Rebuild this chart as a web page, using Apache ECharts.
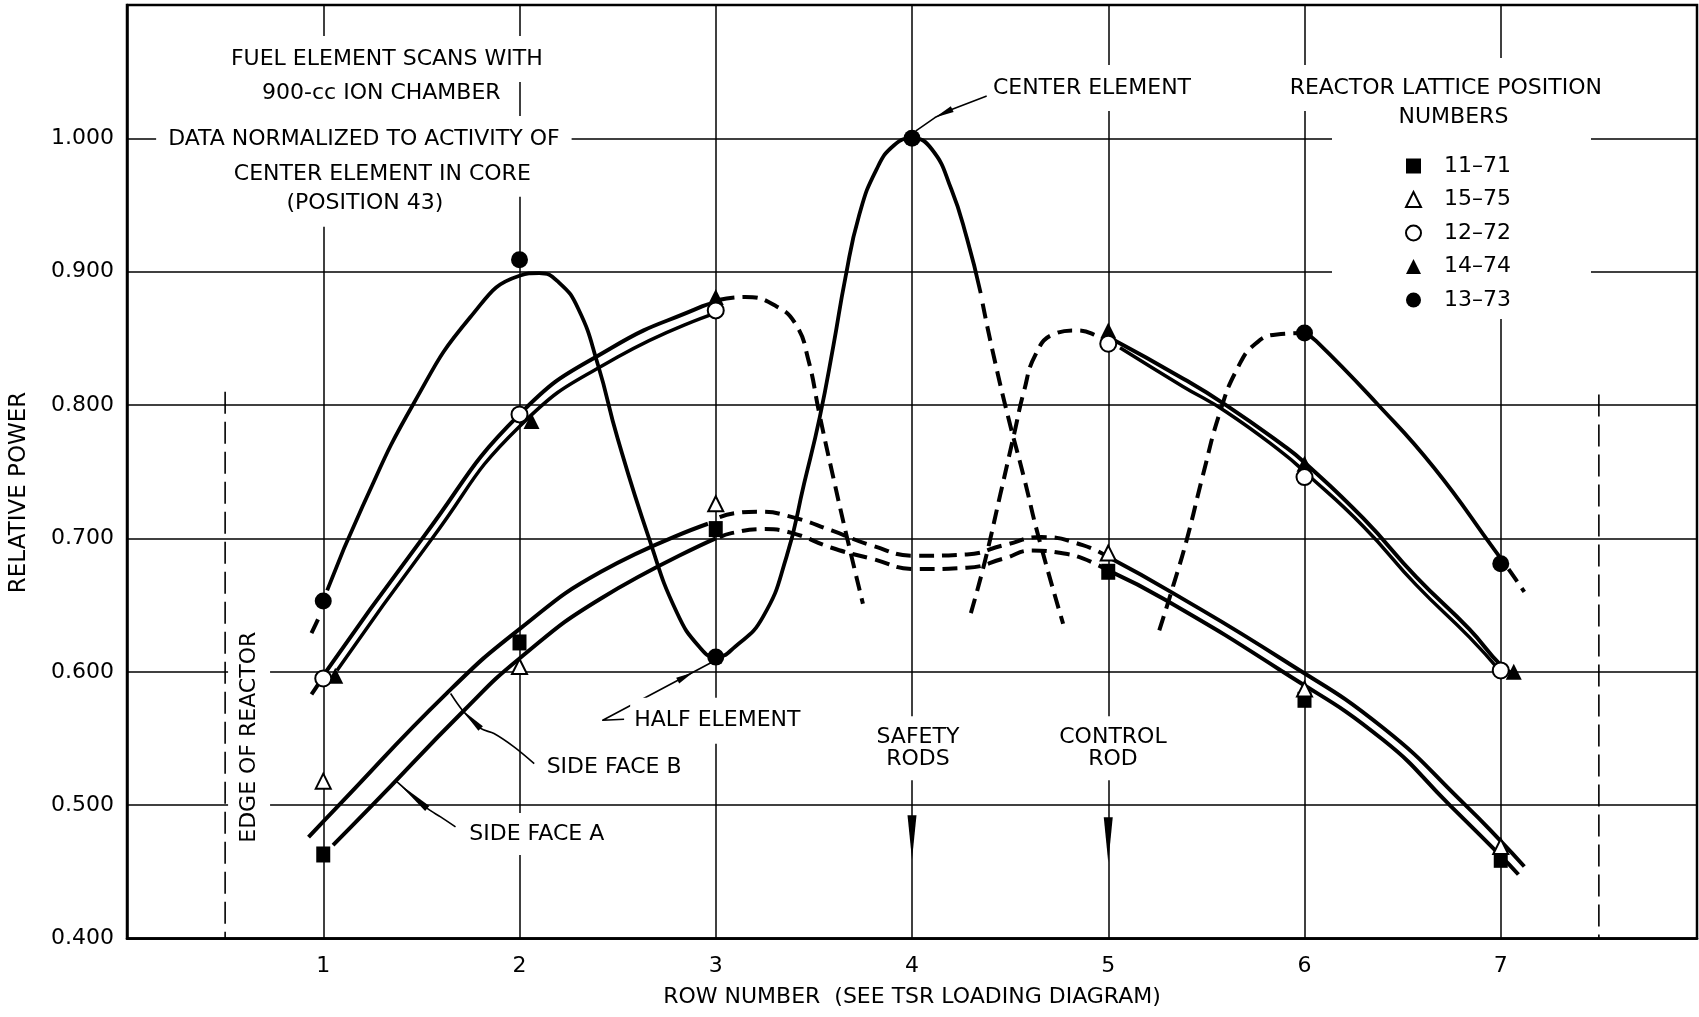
<!DOCTYPE html>
<html>
<head>
<meta charset="utf-8">
<title>Fuel element scans - relative power</title>
<style>
  html, body { margin: 0; padding: 0; background: #ffffff; }
  #chart { width: 1699px; height: 1017px; }
</style>
<script src="https://cdn.jsdelivr.net/npm/echarts@6.0.0/dist/echarts.min.js"></script>
</head>
<body>
<div id="chart"></div>
<script>
// ===================== DATA =====================
const rowTicks = [1, 2, 3, 4, 5, 6, 7];
const powerTicks = [0.4, 0.5, 0.6, 0.7, 0.8, 0.9, 1.0];
const positionNames = ['11–71', '15–75', '12–72', '14–74', '13–73'];

// measured points: [row number, relative power]
const pos11_71 = [[1, 0.463], [2, 0.622], [3, 0.707], [5, 0.675], [6, 0.579], [7, 0.459]];
const pos15_75 = [[1, 0.518], [2, 0.604], [3, 0.726], [5, 0.689], [6, 0.587], [7, 0.469]];
const pos12_72 = [[1, 0.595], [2, 0.793], [3, 0.871], [5, 0.846], [6, 0.746], [7, 0.601]];
const pos14_74 = [[1, 0.597], [2, 0.788], [3, 0.881], [5, 0.856], [6, 0.756], [7, 0.600]];
const pos13_73 = [[1, 0.653], [2, 0.909], [3, 0.611], [4, 1.000], [6, 0.854], [7, 0.681]];

// hand-drawn curves: [row, power]
// side face B (upper line of lower pair)
const faceB_left  = [[0.925, 0.476], [1.08, 0.500], [1.63, 0.584], [2.0, 0.632], [2.415, 0.675], [2.96, 0.711]];
const faceB_mid   = [[3.02, 0.716], [3.1, 0.719], [3.22, 0.720], [3.39, 0.716], [3.59, 0.706], [3.79, 0.695], [4.02, 0.687], [4.28, 0.688], [4.47, 0.695], [4.66, 0.701], [4.87, 0.695], [5.0, 0.686]];
const faceB_right = [[5.0, 0.686], [5.33, 0.659], [5.89, 0.609], [6.4, 0.558], [6.82, 0.500], [7.0, 0.473], [7.12, 0.454]];
// side face A (lower line of lower pair)
const faceA_left  = [[1.05, 0.470], [1.25, 0.500], [1.717, 0.571], [2.0, 0.610], [2.415, 0.655], [3.0, 0.700]];
const faceA_mid   = [[3.02, 0.701], [3.08, 0.704], [3.24, 0.707], [3.39, 0.704], [3.59, 0.693], [3.79, 0.685], [4.02, 0.677], [4.28, 0.678], [4.47, 0.685], [4.61, 0.691], [4.76, 0.689], [4.87, 0.685], [5.0, 0.676]];
const faceA_right = [[5.0, 0.676], [5.29, 0.654], [5.89, 0.600], [6.4, 0.549], [6.74, 0.500], [7.0, 0.462], [7.09, 0.448]];
// upper pair (12-72 / 14-74)
const pairOuter_left  = [[0.98, 0.593], [1.51, 0.701], [2.0, 0.793], [2.47, 0.843], [2.93, 0.874], [3.0, 0.877]];
const pairInner_left  = [[1.07, 0.601], [1.55, 0.699], [2.0, 0.784], [2.5, 0.836], [3.0, 0.869]];
const pair_stub       = [[0.94, 0.583], [0.99, 0.594]];
const pair_fall       = [[3.02, 0.879], [3.15, 0.881], [3.31, 0.874], [3.41, 0.860], [3.47, 0.835], [3.53, 0.792], [3.6, 0.745], [3.67, 0.700], [3.75, 0.651]];
const pair_rise       = [[4.30, 0.644], [4.37, 0.682], [4.45, 0.733], [4.52, 0.778], [4.57, 0.810], [4.63, 0.838], [4.72, 0.853], [4.84, 0.856], [4.96, 0.851], [5.0, 0.848]];
const pairOuter_right = [[5.0, 0.851], [5.38, 0.820], [5.6, 0.800], [5.89, 0.770], [6.0, 0.757], [6.3, 0.715], [6.57, 0.671], [6.84, 0.632], [7.0, 0.605], [7.07, 0.598]];
const pairInner_right = [[5.06, 0.843], [5.38, 0.814], [5.6, 0.795], [5.89, 0.764], [6.0, 0.750], [6.3, 0.709], [6.57, 0.665], [6.84, 0.626], [7.0, 0.600]];
// 13-73 curve
const c13_stubL = [[0.94, 0.629], [0.985, 0.643]];
const c13_main  = [[1.02, 0.661], [1.2, 0.724], [1.46, 0.801], [1.75, 0.866], [2.0, 0.897], [2.1, 0.899], [2.2, 0.892], [2.3, 0.872], [2.4, 0.830], [2.5, 0.775], [2.66, 0.700], [2.8, 0.645], [2.92, 0.618], [3.0, 0.611], [3.1, 0.619], [3.24, 0.641], [3.36, 0.686], [3.45, 0.741], [3.53, 0.791], [3.6, 0.845], [3.66, 0.895], [3.73, 0.942], [3.82, 0.977], [3.91, 0.995], [4.0, 1.000], [4.1, 0.992], [4.2, 0.962], [4.28, 0.925], [4.35, 0.884]];
const c13_fall  = [[4.36, 0.876], [4.41, 0.841], [4.49, 0.791], [4.57, 0.746], [4.645, 0.701], [4.77, 0.636]];
const c13_rise  = [[5.26, 0.631], [5.33, 0.664], [5.40, 0.699], [5.48, 0.746], [5.57, 0.795], [5.66, 0.828], [5.75, 0.846], [5.86, 0.853], [6.0, 0.854]];
const c13_right = [[6.0, 0.854], [6.06, 0.848], [6.37, 0.801], [6.66, 0.753], [6.97, 0.691], [7.0, 0.685]];
const c13_stubR = [[7.04, 0.677], [7.12, 0.660]];
// edge of reactor
const edgeLeft  = [[0.5, 0.810], [0.5, 0.4]];
const edgeRight = [[7.5, 0.808], [7.5, 0.4]];

// ===================== ANNOTATION GEOMETRY (data coordinates) =====================
const leaderCenter = [[4.381, 1.0318], [4.205, 1.0219], [4.117, 1.0156], [4.02, 1.0056]];
const leaderHalf   = [[2.533, 0.5644], [2.424, 0.5637], [2.98, 0.6071]];
const leaderB      = [[2.075, 0.5312], [1.972, 0.5437], [1.870, 0.5537], [1.802, 0.5575], [1.709, 0.5712], [1.649, 0.5837]];
const leaderA      = [[1.674, 0.4837], [1.598, 0.4912], [1.530, 0.4975], [1.385, 0.5163], [1.368, 0.5187]];
// arrowheads: [tipX, tipY, baseX, baseY]
const leaderArrows = [[4.117, 1.0156, 4.205, 1.0219], [2.884, 0.5995, 2.806, 0.5934], [1.709, 0.5712, 1.802, 0.5575], [1.385, 0.5163, 1.530, 0.4975]];
const rodArrows    = [[4, 0.459, 4, 0.4925], [5, 0.457, 5, 0.491]];

const notes = [
  { text: 'FUEL ELEMENT SCANS WITH', at: [1.324, 1.0596], pad: [12, 12] },
  { text: '900-cc ION CHAMBER', at: [1.296, 1.0337], pad: [12, 12] },
  { text: 'DATA NORMALIZED TO ACTIVITY OF', at: [1.207, 0.9996], pad: [12, 12] },
  { text: 'CENTER ELEMENT IN CORE', at: [1.301, 0.9734], pad: [12, 12] },
  { text: '(POSITION 43)', at: [1.212, 0.951], pad: [12, 12] },
  { text: 'CENTER ELEMENT', at: [4.917, 1.0378], pad: [12, 6] },
  { text: 'REACTOR LATTICE POSITION', at: [6.720, 1.0378], pad: [12, 12] },
  { text: 'NUMBERS', at: [6.759, 1.0157], pad: [8, 12] },
  { text: 'HALF ELEMENT', at: [3.008, 0.5633], pad: [12, 4] },
  { text: 'SIDE FACE B', at: [2.482, 0.5285], pad: [6, 6] },
  { text: 'SIDE FACE A', at: [2.088, 0.4783], pad: [10, 6] },
  { text: 'SAFETY\nRODS', at: [4.030, 0.5427], pad: [10, 8] },
  { text: 'CONTROL\nROD', at: [5.024, 0.5427], pad: [10, 8] },
  { text: 'EDGE OF REACTOR', at: [0.622, 0.5509], pad: [10, 6], rot: 90 },
  { text: 'RELATIVE POWER', at: [-0.551, 0.7345], pad: [0, 0], rot: 90, size: 23 }
];

// ===================== RENDERING =====================
const FONT = '"DejaVu Sans", "Liberation Sans", sans-serif';
const chart = echarts.init(document.getElementById('chart'), null, { renderer: 'canvas' });

function curve(pts, dashed, width, smooth) {
  return {
    type: 'line', data: pts, smooth: smooth === undefined ? 0.5 : smooth,
    symbol: 'none', silent: true, z: 2, animation: false, clip: false,
    emphasis: { disabled: true },
    lineStyle: { color: '#000', width: width || 4, type: dashed ? [15, 8] : 'solid', cap: 'butt', join: 'round' }
  };
}

function arrowSeries(items, halfWidth) {
  return {
    type: 'custom', silent: true, z: 6, animation: false, clip: false,
    encode: { x: [0, 2], y: [1, 3] },
    renderItem: function (params, api) {
      const tip = api.coord([api.value(0), api.value(1)]);
      const base = api.coord([api.value(2), api.value(3)]);
      const dx = tip[0] - base[0], dy = tip[1] - base[1];
      const L = Math.hypot(dx, dy) || 1;
      const nx = -dy / L * halfWidth, ny = dx / L * halfWidth;
      return {
        type: 'polygon',
        shape: { points: [tip, [base[0] + nx, base[1] + ny], [base[0] - nx, base[1] - ny]] },
        style: { fill: '#000' }
      };
    },
    data: items
  };
}

function markers(name, data, symbol, size, filled, z, offsets) {
  return {
    type: 'scatter', name: name, symbol: symbol, symbolSize: size, z: z, silent: true, animation: false,
    emphasis: { disabled: true },
    data: data.map((d, i) => offsets ? { value: d, symbolOffset: offsets[i] } : d),
    itemStyle: filled ? { color: '#000', borderWidth: 0, opacity: 1 }
                      : { color: '#fff', borderColor: '#000', borderWidth: 2, opacity: 1 }
  };
}

const triOffsets = [[12, 0], [12, 0], [0, 0], [0, 0], [0, 0], [13, 0]];

const option = {
  backgroundColor: '#ffffff',
  animation: false,
  grid: {
    left: 127, right: 2, top: 5, bottom: 78.5,
    show: true, borderColor: '#000', borderWidth: 2.5, backgroundColor: 'transparent',
    containLabel: false, outerBoundsMode: 'none'
  },
  xAxis: {
    type: 'value', min: 0, max: 8, interval: 1,
    axisLine: { show: true, lineStyle: { color: '#000', width: 2.5 } },
    axisTick: { show: false },
    splitLine: { show: true, lineStyle: { color: '#000', width: 1.5 } },
    axisLabel: {
      color: '#000', fontSize: 22, fontFamily: FONT, margin: 17,
      formatter: v => rowTicks.includes(Math.round(v * 1000) / 1000) ? String(v) : ''
    },
    name: 'ROW NUMBER  (SEE TSR LOADING DIAGRAM)',
    nameLocation: 'middle', nameGap: 48,
    nameTextStyle: { color: '#000', fontSize: 22, fontFamily: FONT }
  },
  yAxis: {
    type: 'value', min: 0.4, max: 1.1, interval: 0.1,
    axisLine: { show: true, lineStyle: { color: '#000', width: 2.5 } },
    axisTick: { show: false },
    splitLine: { show: true, lineStyle: { color: '#000', width: 1.5 } },
    axisLabel: {
      color: '#000', fontSize: 22, fontFamily: FONT, margin: 13,
      formatter: v => {
        const r = Math.round(v * 1000) / 1000;
        return powerTicks.some(t => Math.abs(t - r) < 1e-6) ? r.toFixed(3) : '';
      }
    }
  },
  legend: {
    show: true, orient: 'vertical', left: 1332, top: 58,
    padding: [97, 80, 8, 73],
    backgroundColor: '#fff', borderWidth: 0,
    itemWidth: 15, itemHeight: 15, itemGap: 11.5,
    selectedMode: false,
    data: positionNames,
    textStyle: { color: '#000', fontSize: 22, fontFamily: FONT, lineHeight: 22, padding: [0, 0, 0, 18] },
    z: 8
  },
  series: [
    curve(edgeLeft, false, 1.6, false),
    curve(edgeRight, false, 1.6, false),
    curve(faceB_left, false), curve(faceB_mid, true), curve(faceB_right, false),
    curve(faceA_left, false), curve(faceA_mid, true), curve(faceA_right, false),
    curve(pairOuter_left, false), curve(pairInner_left, false, 3.5), curve(pair_stub, true),
    curve(pair_fall, true), curve(pair_rise, true),
    curve(pairOuter_right, false), curve(pairInner_right, false, 3.5),
    curve(c13_stubL, true), curve(c13_main, false, 3.8), curve(c13_fall, true),
    curve(c13_rise, true), curve(c13_right, false, 3.8), curve(c13_stubR, true),
    curve(leaderCenter, false, 1.6, false),
    curve(leaderHalf, false, 1.6, false),
    curve(leaderB, false, 1.6, 0.3),
    curve(leaderA, false, 1.6, 0.3),
    arrowSeries(leaderArrows, 3.2),
    arrowSeries(rodArrows, 4.5),
    markers(positionNames[0], pos11_71, 'rect', [14, 16], true, 5),
    markers(positionNames[1], pos15_75, 'triangle', [15, 15], false, 6),
    markers(positionNames[2], pos12_72, 'circle', 16, false, 7),
    markers(positionNames[3], pos14_74, 'triangle', [16, 16], true, 5, triOffsets),
    markers(positionNames[4], pos13_73, 'circle', 17, true, 7)
  ]
};

// edge-of-reactor lines are dashed and thin
option.series[0].lineStyle.type = [22, 8];
option.series[1].lineStyle.type = [22, 8];

chart.setOption(option);

// text annotations anchored in data coordinates
const graphics = notes.map(n => {
  const p = chart.convertToPixel({ gridIndex: 0 }, n.at);
  const hasBg = n.pad[0] > 0 || n.pad[1] > 0;
  return {
    type: 'text', x: p[0], y: p[1], z: 50, zlevel: 0,
    rotation: n.rot ? n.rot * Math.PI / 180 : 0,
    silent: true,
    style: {
      text: n.text, font: (n.size || 22) + 'px ' + FONT, fill: '#000',
      align: 'center', verticalAlign: 'middle',
      textAlign: 'center', textVerticalAlign: 'middle',
      lineHeight: 22,
      backgroundColor: hasBg ? '#fff' : undefined,
      padding: n.pad
    }
  };
});
chart.setOption({ graphic: { elements: graphics } });
</script>
</body>
</html>
